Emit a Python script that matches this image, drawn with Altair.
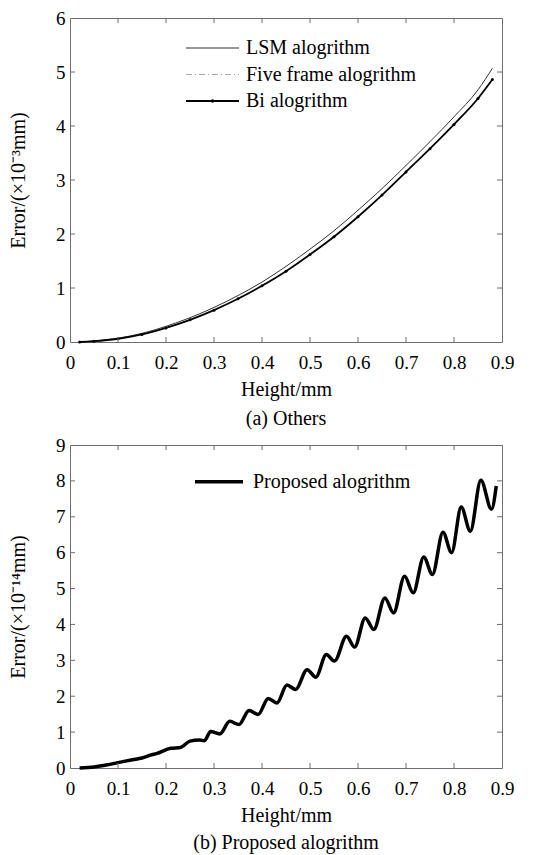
import altair as alt
import pandas as pd

# ---------------- data ----------------
height_top = [0.02, 0.05, 0.10, 0.15, 0.20, 0.25, 0.30, 0.35, 0.40, 0.45,
              0.50, 0.55, 0.60, 0.65, 0.70, 0.75, 0.80, 0.85, 0.88]
lsm_err = [0.00, 0.02, 0.07, 0.16, 0.29, 0.45, 0.64, 0.86, 1.11, 1.40,
           1.72, 2.06, 2.44, 2.84, 3.27, 3.71, 4.17, 4.67, 5.07]
five_err = [0.00, 0.015, 0.06, 0.14, 0.26, 0.41, 0.59, 0.80, 1.04, 1.31,
            1.62, 1.95, 2.32, 2.72, 3.15, 3.58, 4.03, 4.51, 4.86]
bi_err = [0.00, 0.015, 0.06, 0.14, 0.26, 0.41, 0.59, 0.80, 1.04, 1.31,
          1.62, 1.95, 2.32, 2.72, 3.15, 3.58, 4.03, 4.51, 4.86]

height_prop = [0.02, 0.05, 0.07, 0.10, 0.13, 0.15, 0.17, 0.18, 0.21, 0.23,
               0.25, 0.27, 0.28, 0.293, 0.312, 0.333, 0.352, 0.373, 0.392,
               0.413, 0.431, 0.452, 0.470, 0.494, 0.512, 0.534, 0.551,
               0.576, 0.593, 0.615, 0.633, 0.656, 0.674, 0.697, 0.715,
               0.737, 0.755, 0.777, 0.795, 0.815, 0.834, 0.856, 0.878, 0.888]
prop_err = [0.00, 0.03, 0.07, 0.15, 0.23, 0.28, 0.37, 0.40, 0.55, 0.57,
            0.75, 0.78, 0.76, 1.02, 0.95, 1.30, 1.21, 1.60, 1.49,
            1.94, 1.81, 2.31, 2.19, 2.74, 2.53, 3.16, 2.98,
            3.67, 3.37, 4.18, 3.86, 4.74, 4.32, 5.34, 4.88,
            5.88, 5.39, 6.57, 6.00, 7.27, 6.60, 8.02, 7.21, 7.86]

x_ticks = [0, 0.1, 0.2, 0.3, 0.4, 0.5, 0.6, 0.7, 0.8, 0.9]
y_ticks_top = [0, 1, 2, 3, 4, 5, 6]
y_ticks_bot = [0, 1, 2, 3, 4, 5, 6, 7, 8, 9]

legend_top = ["LSM alogrithm", "Five frame alogrithm", "Bi alogrithm"]
legend_bot = ["Proposed alogrithm"]

# ---------------- style ----------------
FONT = "Liberation Serif"
GRAY = "#6e6e6e"
W = 432
H1 = 324
H2 = 323
TICK = 5

X_AXIS = alt.Axis(values=x_ticks, title="Height/mm",
                  labelExpr="datum.value == 0 ? '0' : format(datum.value, '.1f')",
                  ticks=False, tickSize=0, domain=False, grid=False,
                  labelFlush=False, labelOverlap=False, labelPadding=11,
                  labelFont=FONT, labelFontSize=19, labelColor="black",
                  titleFont=FONT, titleFontSize=20, titleFontWeight="normal",
                  titleColor="black", titlePadding=7)


def y_axis(vals, title):
    return alt.Axis(values=vals, title=title, format="d",
                    ticks=False, tickSize=0, domain=False, grid=False,
                    labelFlush=False, labelOverlap=False, labelPadding=5,
                    labelFont=FONT, labelFontSize=19, labelColor="black",
                    titleFont=FONT, titleFontSize=20, titleFontWeight="normal",
                    titleColor="black", titlePadding=27)


def tick_layers(xe, ye, yvals, H):
    tx = pd.DataFrame({"x": x_ticks[1:-1]})
    ty = pd.DataFrame({"y": yvals[1:-1]})
    return [
        alt.Chart(tx).mark_rule(color=GRAY, strokeWidth=1).encode(
            x=xe, y=alt.value(H), y2=alt.value(H - TICK)),
        alt.Chart(tx).mark_rule(color=GRAY, strokeWidth=1).encode(
            x=xe, y=alt.value(0), y2=alt.value(TICK)),
        alt.Chart(ty).mark_rule(color=GRAY, strokeWidth=1).encode(
            y=ye, x=alt.value(0), x2=alt.value(TICK)),
        alt.Chart(ty).mark_rule(color=GRAY, strokeWidth=1).encode(
            y=ye, x=alt.value(W), x2=alt.value(W - TICK)),
    ]


# ---------------- top panel ----------------
xs = alt.Scale(domain=[0, 0.9], nice=False, zero=False)
ys1 = alt.Scale(domain=[0, 6], nice=False, zero=False)
XE = alt.X("x:Q", scale=xs, axis=X_AXIS)
YE1 = alt.Y("y:Q", scale=ys1, axis=y_axis(y_ticks_top, "Error/(×10⁻³mm)"))

df_lsm = pd.DataFrame({"x": height_top, "y": lsm_err})
df_five = pd.DataFrame({"x": height_top, "y": five_err})
df_bi = pd.DataFrame({"x": height_top, "y": bi_err})

lsm_line = alt.Chart(df_lsm).mark_line(color="#333333", strokeWidth=1,
                                       interpolate="monotone").encode(x=XE, y=YE1)
five_line = alt.Chart(df_five).mark_line(color="#aaaaaa", strokeWidth=1,
                                         strokeDash=[6, 3, 1, 3],
                                         interpolate="monotone").encode(x=XE, y=YE1)
bi_line = alt.Chart(df_bi).mark_line(color="black", strokeWidth=1.8,
                                     interpolate="monotone").encode(x=XE, y=YE1)
bi_pts = alt.Chart(df_bi).mark_point(color="black", filled=True, size=9,
                                     opacity=1).encode(x=XE, y=YE1)

# legend (top)
LX0, LX1, LT = 116, 169, 176
LY = [30, 56.5, 83]
leg_style = [("#333333", None), ("#aaaaaa", [6, 3, 1, 3]), ("black", None)]
leg_layers = []
for i, name in enumerate(legend_top):
    col, dash = leg_style[i]
    d = pd.DataFrame({"label": [name]})
    kw = dict(color=col, strokeWidth=1.8 if i == 2 else 1)
    if dash:
        kw["strokeDash"] = dash
    leg_layers.append(alt.Chart(d).mark_rule(**kw).encode(
        x=alt.value(LX0), x2=alt.value(LX1), y=alt.value(LY[i])))
    leg_layers.append(alt.Chart(d).mark_text(
        align="left", baseline="middle", font=FONT, fontSize=20,
        color="black").encode(x=alt.value(LT), y=alt.value(LY[i]),
                              text="label:N"))
leg_layers.append(alt.Chart(pd.DataFrame({"label": [legend_top[2]]})).mark_point(
    color="black", filled=True, size=12, opacity=1).encode(
    x=alt.value((LX0 + LX1) / 2), y=alt.value(LY[2])))

top = alt.layer(
    lsm_line, five_line, bi_line, bi_pts,
    *tick_layers(XE, YE1, y_ticks_top, H1), *leg_layers
).properties(
    width=W, height=H1,
    title=alt.TitleParams("(a) Others", orient="bottom", frame="group",
                          anchor="middle", font=FONT, fontSize=20,
                          fontWeight="normal", color="black", offset=10))

# ---------------- bottom panel ----------------
ys2 = alt.Scale(domain=[0, 9], nice=False, zero=False)
YE2 = alt.Y("y:Q", scale=ys2, axis=y_axis(y_ticks_bot, "Error/(×10⁻¹⁴mm)"))
df_prop = pd.DataFrame({"x": height_prop, "y": prop_err})
prop_line = alt.Chart(df_prop).mark_line(color="black", strokeWidth=3.5,
                                         interpolate="monotone").encode(x=XE, y=YE2)

d2 = pd.DataFrame({"label": legend_bot})
leg2 = [
    alt.Chart(d2).mark_rule(color="black", strokeWidth=3.5).encode(
        x=alt.value(125), x2=alt.value(173), y=alt.value(36.7)),
    alt.Chart(d2).mark_text(align="left", baseline="middle", font=FONT,
                            fontSize=20, color="black").encode(
        x=alt.value(183), y=alt.value(36.7), text="label:N"),
]

bottom = alt.layer(
    prop_line, *tick_layers(XE, YE2, y_ticks_bot, H2), *leg2
).properties(
    width=W, height=H2,
    title=alt.TitleParams("(b) Proposed alogrithm", orient="bottom",
                          frame="group", anchor="middle", font=FONT,
                          fontSize=20, fontWeight="normal", color="black",
                          offset=8))

chart = alt.vconcat(top, bottom, spacing=5).properties(
    padding={"left": 0, "top": 0, "right": 5, "bottom": 0}
).configure(
    background="white", font=FONT
).configure_axis(
    labelFont=FONT, titleFont=FONT
).configure_title(
    font=FONT
).configure_view(stroke=GRAY, strokeWidth=1)

chart.save("out.html", embed_options={"renderer": "svg", "actions": False})
